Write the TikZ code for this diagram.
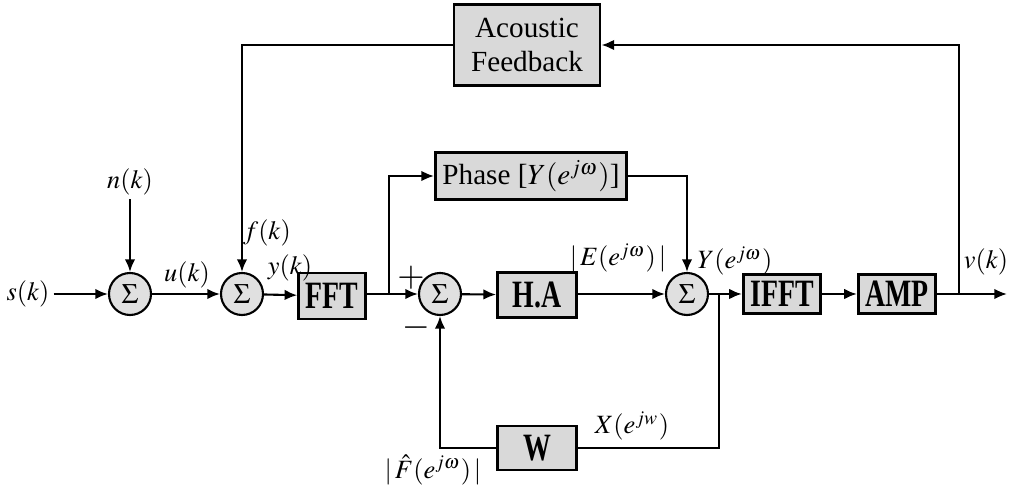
\documentclass[tikz,border=0pt]{standalone}
\usepackage{mathptmx}
\usepackage{fontspec}
\setmainfont{Liberation Serif}
\newfontfamily\blockfont{Liberation Serif}[FakeStretch=0.72]
\usepackage{tikz}
\usetikzlibrary{arrows.meta,positioning}
\tikzset{
  fb-block/.style={draw=black, fill=black!15, line width=0.8pt, inner sep=2pt, align=center},
  fb-bold/.style={fb-block, font=\blockfont\bfseries\fontsize{11}{12}\selectfont},
  fb-text/.style={fb-block, font=\fontsize{8.3}{9.8}\selectfont},
  fb-sum/.style={circle, draw=black, fill=black!12, line width=0.6pt, minimum size=0.42cm,
    inner sep=0pt, font=\fontsize{8}{9}\selectfont},
  fb-sig/.style={inner sep=1pt, font=\fontsize{7.5}{9}\selectfont},
  fb-wire/.style={line width=0.6pt, -{Latex[length=3.6pt,width=3pt]}},
  fb-line/.style={line width=0.6pt}
}

\begin{document}
\begin{tikzpicture}[x=0.01cm, y=-0.01cm]
  \useasboundingbox (0,0) rectangle (1011,485);

  % summing junctions
  \node[fb-sum] (sum1) at (130,294) {$\Sigma$};
  \node[fb-sum] (sum2) at (242,294) {$\Sigma$};
  \node[fb-sum] (sum3) at (440,294) {$\Sigma$};
  \node[fb-sum] (sum4) at (687,294) {$\Sigma$};

  % blocks
  \node[fb-bold, minimum width=0.61cm, minimum height=0.46cm] (fft) at (332,296) {FFT};
  \node[fb-bold, minimum width=0.79cm, minimum height=0.45cm] (ha) at (537,295) {H.A};
  \node[fb-bold, minimum width=0.70cm, minimum height=0.39cm] (ifft) at (782,294) {IFFT};
  \node[fb-bold, minimum width=0.71cm, minimum height=0.39cm] (amp) at (897,294) {AMP};
  \node[fb-bold, minimum width=0.79cm, minimum height=0.44cm] (w) at (537,448) {W};
  \node[fb-text, minimum width=1.73cm, minimum height=0.47cm] (phase) at (531,176)
    {Phase [$Y(e^{j\omega})$]};
  \node[fb-text, minimum width=1.46cm, minimum height=0.81cm] (acoustic) at (527,45)
    {Acoustic\\Feedback};

  % signal labels
  \node[fb-sig] (sk) at (28,294) {$s(k)$};
  \node[fb-sig] (nk) at (130,182) {$n(k)$};
  \node[fb-sig] (uk) at (187,275) {$u(k)$};
  \node[fb-sig] (fk) at (267,233) {$f(k)$};
  \node[fb-sig] (yk) at (290,268) {$y(k)$};
  \node[fb-sig] (ek) at (618,258) {$|\,E(e^{j\omega})\,|$};
  \node[fb-sig] (yw) at (735,261) {$Y(e^{j\omega})$};
  \node[fb-sig] (vk) at (986,262) {$v(k)$};
  \node[fb-sig] (xw) at (632,426) {$X(e^{jw})$};
  \node[fb-sig] (fw) at (433,470) {$|\,\hat{F}(e^{j\omega})\,|$};
  \node[fb-sig, font=\fontsize{10}{11}\selectfont] (plus) at (411,278) {$+$};
  \node[fb-sig, font=\bfseries\fontsize{6}{7}\selectfont] (minus) at (416,330) {—};

  % branch points
  \coordinate (tap1) at (389,294);
  \coordinate (tap2) at (719,294);
  \coordinate (tap3) at (959,294);
  \coordinate (out) at (1007,294);

  % forward path
  \draw[fb-wire] (sk) -- (sum1);
  \draw[fb-wire] (nk) -- (sum1);
  \draw[fb-wire] (sum1) -- (sum2);
  \draw[fb-wire] (sum2) -- (fft);
  \draw[fb-wire] (fft.east |- tap1) -- (sum3);
  \draw[fb-wire] (sum3) -- (ha);
  \draw[fb-wire] (ha.east |- sum4) -- (sum4);
  \draw[fb-wire] (sum4) -- (ifft);
  \draw[fb-wire] (ifft) -- (amp);
  \draw[fb-wire] (amp) -- (out);

  % phase path
  \draw[fb-wire] (tap1) |- (phase);
  \draw[fb-wire] (phase) -| (sum4);

  % estimate path
  \draw[fb-line] (tap2) |- (w);
  \draw[fb-wire] (w) -| (sum3);

  % acoustic feedback
  \draw[fb-wire] (tap3) |- (acoustic);
  \draw[fb-wire] (acoustic) -| (sum2);
\end{tikzpicture}
\end{document}
